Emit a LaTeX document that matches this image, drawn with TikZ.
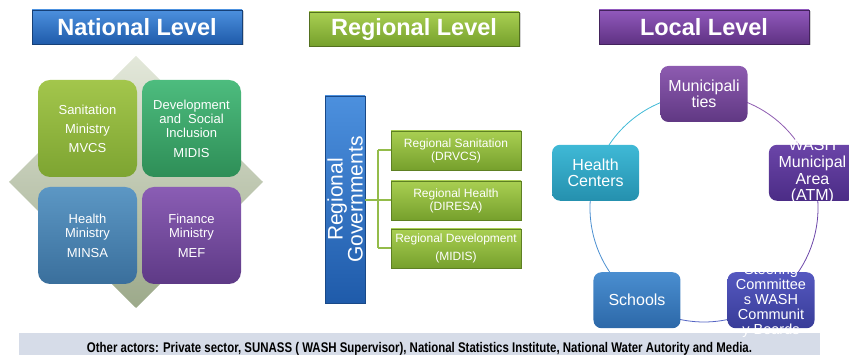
\documentclass[tikz,border=0pt]{standalone}
\usepackage{fontspec}
\usepackage{graphicx}
\setmainfont{Liberation Sans}
\usetikzlibrary{shadows}
\definecolor{tblueT}{HTML}{4C90DE}
\definecolor{tblueB}{HTML}{1F5BAA}
\definecolor{tgreenT}{HTML}{A9CF52}
\definecolor{tgreenB}{HTML}{76A02C}
\definecolor{tpurpT}{HTML}{9159BC}
\definecolor{tpurpB}{HTML}{5F3283}
\definecolor{dmT}{HTML}{E3E8DA}
\definecolor{dmB}{HTML}{9CA98A}
\definecolor{sanT}{HTML}{A3C64C}
\definecolor{sanB}{HTML}{7DA431}
\definecolor{devT}{HTML}{4DBC7E}
\definecolor{devB}{HTML}{2E8E57}
\definecolor{heaT}{HTML}{5C97C4}
\definecolor{heaB}{HTML}{3A6F9C}
\definecolor{finT}{HTML}{8A5DB4}
\definecolor{finB}{HTML}{5E3A86}
\definecolor{gline}{HTML}{94BC4A}
\definecolor{munT}{HTML}{8D5BB0}
\definecolor{munB}{HTML}{603883}
\definecolor{washT}{HTML}{6B45A8}
\definecolor{washB}{HTML}{4B2C86}
\definecolor{steT}{HTML}{5558C0}
\definecolor{steB}{HTML}{383C98}
\definecolor{schT}{HTML}{4A8ED0}
\definecolor{schB}{HTML}{2C68A8}
\definecolor{hcT}{HTML}{3FB9D6}
\definecolor{hcB}{HTML}{2590AE}
\definecolor{barcol}{HTML}{D6DCE8}
\begin{document}
\begin{tikzpicture}[x=1pt,y=1pt,
  titlebox/.style={minimum width=210, minimum height=34, inner sep=0,
    font=\fontsize{23.5}{26}\selectfont\bfseries, text=white, line width=0.6pt,
    drop shadow={opacity=0.35, shadow xshift=1.5pt, shadow yshift=-1.5pt}},
  sqbox/.style={rounded corners=12, minimum width=99, minimum height=97, inner sep=0,
    text=white, align=center, font=\fontsize{13}{14}\selectfont},
  gbox/.style={minimum width=130, minimum height=39, inner sep=0,
    top color=tgreenT, bottom color=tgreenB, draw=tgreenB!80!black, line width=0.5pt,
    text=white, align=center, font=\fontsize{12}{13}\selectfont,
    drop shadow={opacity=0.3, shadow xshift=1.2pt, shadow yshift=-1.2pt}},
  gconn/.style={draw=gline, line width=2pt},
  lbox/.style={rounded corners=8, minimum width=87, minimum height=56, inner sep=0},
  ltext/.style={text=white, align=center, inner sep=0, font=\fontsize{16}{16}\selectfont},
  ring/.style={line width=0.8pt}
]
\useasboundingbox (0,0) rectangle (849,355);

% ---------- National level ----------
\node[titlebox, top color=tblueT, bottom color=tblueB, draw=tblueB!70!black] (nat) at (137,328) {National Level};
\shade[top color=dmT, bottom color=dmB] (136,299) -- (263,173) -- (136,47) -- (9,173) -- cycle;
\node[sqbox, top color=sanT, bottom color=sanB] (san) at (87.5,226.5) {Sanitation\\[5pt]Ministry\\[5pt]MVCS};
\node[sqbox, top color=devT, bottom color=devB] (dev) at (191.5,226.5) {Development\\and\ \ Social\\Inclusion\\[6pt]MIDIS};
\node[sqbox, top color=heaT, bottom color=heaB] (hea) at (87.5,119.5) {Health\\Ministry\\[6pt]MINSA};
\node[sqbox, top color=finT, bottom color=finB] (fin) at (191.5,119.5) {Finance\\Ministry\\[6pt]MEF};

% ---------- Regional level ----------
\node[titlebox, top color=tgreenT, bottom color=tgreenB, draw=tgreenB!70!black] (reg) at (414,326) {Regional Level};
\node[rotate=90, minimum width=207, minimum height=40, inner sep=0,
  top color=tblueT, bottom color=tblueB, draw=tblueB!80!black, line width=0.5pt,
  text=white, align=center, font=\fontsize{21}{20}\selectfont] (rg) at (345,155.5) {Regional\\Governments};
\node[gbox] (r1) at (456,204.5) {Regional Sanitation\\(DRVCS)};
\node[gbox] (r2) at (456,154.5) {Regional Health\\(DIRESA)};
\node[gbox] (r3) at (456,106.5) {Regional Development\\[5pt](MIDIS)};
\coordinate (hub) at (378,155);
\draw[gconn] (rg.south |- hub) -- (hub);
\draw[gconn] (hub |- r1) -- (hub |- r3);
\draw[gconn] (hub |- r1) -- (r1.west);
\draw[gconn] (hub |- r2) -- (r2.west);
\draw[gconn] (hub |- r3) -- (r3.west);

% ---------- Bottom bar ----------
\node[fill=barcol, minimum width=801, minimum height=22, inner sep=0] (bar) at (419.5,11) {};
\node[anchor=base, inner sep=0] (bartxt) at (419.5,2.8)
  {\resizebox{665pt}{\height}{\fontsize{14}{16}\selectfont\bfseries Other actors: Private sector, SUNASS ( WASH Supervisor), National Statistics Institute, National Water Autority and Media.}};

% ---------- Local level ----------
\node[titlebox, top color=tpurpT, bottom color=tpurpB, draw=tpurpB!70!black] (loc) at (704,328) {Local Level};
\coordinate (cc) at (704,147);
\path (cc) ++(90:114) coordinate (p1);
\path (cc) ++(18:114) coordinate (p2);
\path (cc) ++(-54:114) coordinate (p3);
\path (cc) ++(-126:114) coordinate (p4);
\path (cc) ++(162:114) coordinate (p5);
\draw[ring, draw=hcT] (p1) arc[start angle=90, end angle=162, radius=114];
\draw[ring, draw=schT] (p5) arc[start angle=162, end angle=234, radius=114];
\draw[ring, draw=steT!80!schT] (p4) arc[start angle=234, end angle=306, radius=114];
\draw[ring, draw=washT] (p3) arc[start angle=-54, end angle=18, radius=114];
\draw[ring, draw=munT] (p2) arc[start angle=18, end angle=90, radius=114];
\node[lbox, top color=munT, bottom color=munB, label={[ltext]center:{Municipali\\ties}}] (mun) at (p1) {};
\node[lbox, top color=washT, bottom color=washB, label={[ltext, yshift=1pt]center:{WASH\\[1pt]Municipal\\[1pt]Area\\(ATM)}}] (wash) at (p2) {};
\node[lbox, top color=steT, bottom color=steB, label={[ltext, font=\fontsize{14.5}{15}\selectfont, yshift=-1pt]center:{Steering\\Committee\\s WASH\\Communit\\y Boards}}] (ste) at (p3) {};
\node[lbox, top color=schT, bottom color=schB, label={[ltext]center:{Schools}}] (sch) at (p4) {};
\node[lbox, top color=hcT, bottom color=hcB, label={[ltext]center:{Health\\Centers}}] (hc) at (p5) {};
\end{tikzpicture}
\end{document}
